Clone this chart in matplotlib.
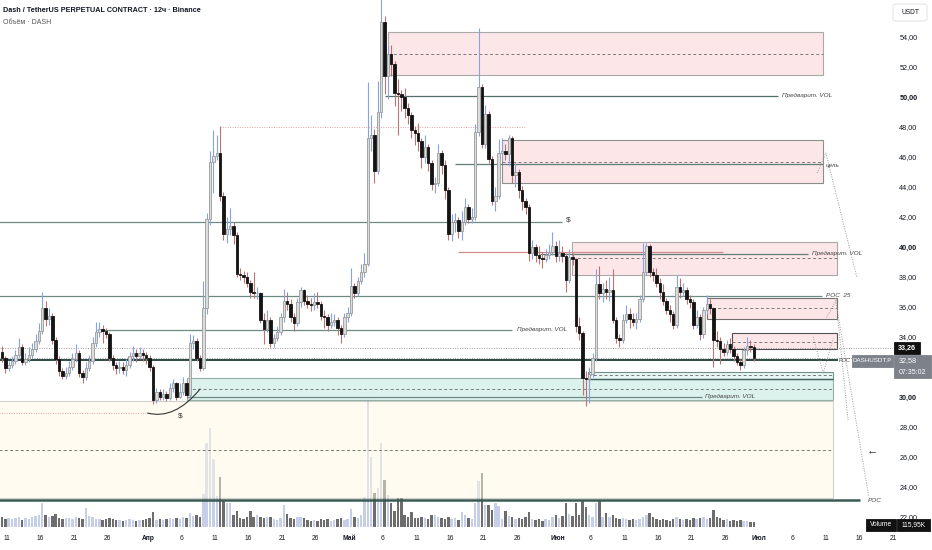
import numpy as np
import matplotlib
matplotlib.use('Agg')
import matplotlib.pyplot as plt
from matplotlib.patches import Rectangle, FancyBboxPatch, PathPatch
from matplotlib.path import Path

plt.rcParams['font.family'] = ['Liberation Sans', 'DejaVu Sans']

# ---------------- data (12h candles, DASH/USDT perpetual) ----------------
first_open = 33.0
closes = [
    32.6, 31.9, 32.1, 32.4, 32.8, 33.3, 32.3, 32.5, 32.8, 33.2,
    33.7, 34.4, 35.9, 35.2, 35.4, 33.8, 32.5, 31.7, 31.4, 31.6,
    32.0, 32.5, 32.9, 31.6, 31.3, 31.9, 32.4, 33.6, 34.3, 34.5,
    34.4, 34.2, 32.6, 32.1, 31.9, 32.0, 31.8, 32.1, 32.7, 32.9,
    32.7, 32.9, 32.8, 32.6, 32.0, 29.8, 30.3, 30.0, 30.2, 29.9,
    30.6, 30.9, 30.0, 30.3, 30.9, 30.1, 33.6, 33.7, 32.6, 31.9,
    35.9, 41.9, 45.7, 46.1, 46.3, 43.4, 40.9, 41.2, 41.4, 40.8,
    38.2, 38.1, 38.0, 37.6, 37.0, 36.9, 36.9, 35.1, 34.5, 35.1,
    33.6, 33.9, 34.3, 35.3, 36.4, 36.2, 35.3, 34.9, 36.3, 37.1,
    36.4, 36.2, 36.1, 36.3, 36.2, 35.4, 35.3, 34.8, 35.0, 35.1,
    34.6, 34.2, 35.3, 35.6, 37.4, 36.9, 37.7, 38.3, 38.9, 47.3,
    47.5, 45.1, 49.0, 55.0, 51.4, 52.9, 52.2, 50.3, 50.2, 50.0,
    49.3, 48.8, 47.8, 47.6, 47.1, 46.0, 46.7, 45.6, 44.2, 44.3,
    46.3, 45.5, 43.8, 40.9, 41.7, 41.8, 41.1, 41.7, 42.7, 41.9,
    42.0, 47.7, 50.7, 46.9, 48.9, 45.9, 43.1, 43.4, 46.3, 46.4,
    46.2, 47.3, 44.8, 45.0, 43.8, 43.1, 42.7, 39.6, 40.0, 39.5,
    39.3, 39.2, 39.5, 39.7, 40.1, 39.4, 39.6, 39.4, 37.8, 39.35,
    39.2, 34.7, 34.25, 31.25, 31.2, 31.5, 32.6, 37.5, 36.9, 37.2,
    37.0, 37.1, 35.1, 33.9, 33.8, 35.1, 35.5, 35.2, 35.0, 35.2,
    36.5, 38.3, 40.1, 38.3, 38.1, 37.6, 37.0, 36.4, 35.8, 35.5,
    34.8, 37.3, 37.0, 37.1, 36.5, 36.3, 34.8, 35.3, 34.2, 35.8,
    36.2, 35.9, 33.8, 33.7, 33.2, 33.0, 33.5, 33.2, 32.7, 32.35,
    32.1, 33.1, 33.4, 33.3, 32.58,
]
highs = [
    33.4, 32.7, 32.4, 32.7, 33.1, 33.9, 33.5, 32.9, 33.3, 33.6,
    34.2, 34.9, 37.0, 36.4, 35.9, 35.6, 34.0, 32.7, 31.9, 32.0,
    32.4, 32.9, 33.5, 33.1, 31.8, 32.3, 32.8, 34.0, 35.0, 35.0,
    34.8, 34.6, 34.3, 32.8, 32.3, 32.4, 32.3, 32.5, 33.0, 33.4,
    33.2, 33.3, 33.2, 33.0, 32.8, 32.1, 30.6, 30.5, 30.5, 30.4,
    30.9, 31.2, 31.0, 30.9, 31.3, 31.1, 34.2, 34.1, 33.9, 32.8,
    37.7, 42.3, 46.4, 47.8, 47.5, 48.1, 43.7, 42.0, 42.6, 41.7,
    41.0, 38.6, 38.4, 38.3, 37.8, 38.3, 37.3, 37.0, 35.6, 35.8,
    35.3, 34.2, 34.7, 35.6, 37.2, 37.0, 36.5, 35.6, 36.6, 37.3,
    37.2, 36.8, 36.6, 36.9, 37.0, 36.4, 35.8, 35.5, 35.6, 35.5,
    35.3, 34.8, 35.6, 36.0, 38.6, 37.6, 38.0, 38.9, 39.6, 51.0,
    48.8, 47.9, 51.1, 57.0, 55.4, 53.4, 53.5, 52.4, 51.2, 50.5,
    50.6, 49.6, 49.0, 48.1, 48.3, 47.3, 47.5, 46.9, 45.8, 44.7,
    46.9, 46.5, 45.8, 44.0, 42.2, 42.3, 42.0, 42.4, 43.3, 42.9,
    42.6, 48.2, 54.6, 50.9, 49.5, 49.1, 46.1, 44.0, 47.2, 47.3,
    46.9, 47.5, 47.4, 45.6, 45.2, 44.1, 43.3, 42.9, 40.5, 40.2,
    40.1, 39.7, 39.9, 40.2, 41.0, 40.4, 40.5, 40.1, 39.6, 39.9,
    39.6, 39.3, 35.3, 34.4, 31.7, 32.0, 32.9, 38.5, 38.7, 37.6,
    37.8, 38.0, 38.5, 35.3, 34.2, 35.5, 36.1, 35.9, 35.6, 35.6,
    36.8, 40.3, 40.3, 40.2, 38.6, 38.6, 37.9, 37.5, 36.6, 36.1,
    35.7, 38.1, 37.9, 37.6, 37.3, 36.8, 36.5, 35.8, 35.5, 36.0,
    36.8, 36.5, 36.0, 34.4, 34.0, 33.6, 33.8, 33.9, 33.4, 32.9,
    32.5, 33.3, 34.0, 33.8, 33.5,
]
lows = [
    32.3, 31.6, 31.7, 31.9, 32.2, 32.6, 32.1, 32.1, 32.3, 32.6,
    33.0, 33.5, 34.2, 34.7, 34.8, 33.5, 32.2, 31.4, 31.2, 31.2,
    31.4, 31.8, 32.3, 31.3, 30.9, 31.1, 31.7, 32.2, 33.3, 34.0,
    33.6, 33.9, 32.4, 31.8, 31.5, 31.6, 31.5, 31.4, 31.9, 32.4,
    32.3, 32.5, 32.4, 32.2, 31.7, 29.5, 29.6, 29.8, 29.8, 29.7,
    29.8, 30.3, 29.8, 29.9, 30.1, 29.9, 30.0, 33.2, 32.4, 31.7,
    31.8, 35.5, 41.5, 43.6, 45.8, 43.1, 40.5, 40.3, 40.8, 40.2,
    38.0, 37.8, 37.6, 37.3, 36.6, 36.6, 36.5, 34.9, 33.5, 34.3,
    33.3, 33.3, 33.7, 34.1, 35.0, 35.8, 35.0, 34.4, 34.7, 36.0,
    36.1, 35.9, 35.7, 35.8, 35.9, 35.1, 34.6, 34.4, 34.6, 34.7,
    34.1, 33.6, 34.0, 35.0, 35.4, 36.6, 36.7, 37.5, 38.0, 38.7,
    46.4, 44.3, 44.9, 48.6, 50.2, 49.9, 51.4, 49.4, 47.5, 49.1,
    48.6, 48.2, 47.3, 46.8, 46.4, 45.3, 45.6, 45.1, 43.8, 43.6,
    44.1, 44.9, 43.2, 40.5, 40.4, 41.0, 40.6, 40.5, 41.5, 41.6,
    41.6, 41.8, 47.4, 46.6, 46.6, 45.6, 42.8, 42.4, 43.2, 45.9,
    45.8, 45.4, 44.3, 44.0, 43.3, 42.5, 42.2, 39.1, 39.2, 39.0,
    38.9, 38.6, 39.0, 39.2, 39.5, 39.0, 39.1, 39.0, 37.0, 37.6,
    38.8, 34.3, 33.8, 30.1, 29.4, 29.6, 31.3, 32.4, 36.5, 36.3,
    36.5, 36.4, 34.9, 33.6, 33.3, 33.6, 34.9, 34.6, 34.7, 34.5,
    35.0, 36.3, 38.1, 38.0, 37.7, 37.3, 36.5, 36.1, 35.5, 35.0,
    34.5, 34.6, 36.6, 36.7, 36.2, 35.9, 34.5, 34.6, 33.8, 33.9,
    35.5, 35.5, 32.0, 33.3, 32.2, 32.7, 32.8, 32.9, 32.4, 32.1,
    31.8, 31.9, 32.8, 33.0, 32.4,
]
# volume per candle, in units of ~23K DASH
volume = [
    10, 8, 9, 8, 9, 10, 7, 9, 8, 10,
    11, 12, 24, 12, 10, 11, 13, 9, 8, 9,
    9, 8, 10, 9, 8, 19, 11, 10, 8, 8,
    7, 8, 9, 8, 7, 7, 6, 7, 8, 7,
    6, 7, 7, 8, 9, 15, 7, 8, 7, 8,
    9, 8, 9, 8, 10, 9, 14, 11, 12, 10,
    33, 84, 99, 68, 31, 50, 27, 24, 24, 12,
    16, 9, 8, 10, 16, 10, 12, 10, 9, 10,
    10, 8, 7, 9, 22, 13, 9, 8, 10, 10,
    9, 7, 6, 7, 6, 8, 7, 8, 6, 7,
    8, 9, 7, 8, 18, 10, 9, 12, 30, 129,
    70, 34, 39, 84, 47, 32, 24, 16, 29, 29,
    12, 10, 15, 9, 9, 10, 9, 8, 12, 12,
    10, 9, 8, 10, 8, 9, 7, 15, 12, 9,
    8, 24, 46, 54, 22, 22, 17, 24, 21, 8,
    16, 11, 10, 8, 9, 8, 10, 15, 8, 7,
    8, 6, 8, 7, 10, 12, 9, 11, 24, 13,
    11, 24, 12, 26, 20, 12, 10, 24, 26, 10,
    14, 10, 12, 9, 8, 9, 8, 7, 8, 7,
    8, 10, 12, 14, 10, 8, 7, 8, 7, 6,
    8, 10, 8, 7, 8, 7, 9, 8, 9, 10,
    8, 9, 17, 10, 9, 7, 8, 6, 7, 6,
    7, 6, 6, 5, 5,
]
# 32,00 is hidden behind the last-price label in the reference
price_ticks = [22, 24, 26, 28, 30, 34, 36, 38, 40, 42, 44, 46, 48, 50, 52, 54]
bold_ticks = [30, 40, 50]
# day offsets from 10 March
tick_days = [1, 6, 11, 16, 22, 27, 32, 37, 42, 47, 52, 57, 62, 67, 72, 77,
             83, 88, 93, 98, 103, 108, 113, 118, 123, 128, 133]
tick_labels = ['11', '16', '21', '26', 'Апр', '6', '11', '16', '21', '26', 'Май', '6',
               '11', '16', '21', '26', 'Июн', '6', '11', '16', '21', '26', 'Июл', '6',
               '11', '16', '21']
month_labels = ['Апр', 'Май', 'Июн', 'Июл']
last_price = 32.58
line_price = 33.26

closes = np.array(closes)
highs = np.array(highs)
lows = np.array(lows)
opens = np.r_[first_open, closes[:-1]]
n = len(closes)
days = 0.25 + 0.5 * np.arange(n)

# ---------------- figure ----------------
W, H = 932, 550
fig = plt.figure(figsize=(W / 100, H / 100), dpi=100)
PANE_R, PANE_B = 893, 527
rect = [0, 1 - PANE_B / H, PANE_R / W, PANE_B / H]
ax_vol = fig.add_axes(rect)
ax = fig.add_axes(rect)
ax_vol.set_zorder(0)
ax.set_zorder(1)
ax.patch.set_visible(False)

XL = (-0.045, 133.0)
YL = (21.33, 56.47)
for a in (ax, ax_vol):
    a.set_xlim(*XL)
    for s in a.spines.values():
        s.set_visible(False)
ax.set_ylim(*YL)
ax_vol.set_ylim(0, 527)
ax_vol.set_xticks([])
ax_vol.set_yticks([])

up = closes >= opens

# volume
vcol = np.where(up, '#c6cee8', '#6d6d6d')
ax_vol.bar(days, volume, width=0.36, color=vcol, linewidth=0)

# zones
def zone(d0, d1, lo, hi, mid, fc, ec, alpha=1.0, lw=0.8):
    ax.add_patch(Rectangle((d0, lo), d1 - d0, hi - lo, facecolor=fc, edgecolor=ec,
                           lw=lw, alpha=alpha, zorder=1))
    if mid is not None:
        ax.hlines(mid, d0, d1, colors='#7a7a7a', linestyles=(0, (3, 2.5)), lw=0.7, zorder=1.5)

PINK, PINK_E = '#fde6e8', '#a9a9a9'
zone(57.8, 122.6, 51.47, 54.35, 52.9, PINK, PINK_E)
zone(74.7, 122.6, 44.27, 47.15, 45.7, PINK, '#8e8e8e')
zone(85.2, 124.7, 38.13, 40.35, 39.24, PINK, PINK_E)
zone(105.3, 124.7, 35.18, 36.58, 35.9, PINK, '#707070')
zone(109.0, 124.7, 33.18, 34.24, 33.69, PINK, '#505050')
zone(-0.5, 124.1, 23.25, 29.73, 26.47, '#fff9e3', '#a0a8a6', alpha=0.5)
zone(27.8, 124.1, 29.77, 31.25, 30.51, '#d9f1ec', '#8ea5a0', alpha=0.9)
zone(87.6, 124.1, 31.2, 31.69, 31.45, '#e6f6f2', '#6f8f88')

# horizontal lines
LN = '#6b8a84'
hl = [
    (41.65, -0.5, 83.7, LN, 0.9),
    (36.75, -0.5, 122.4, LN, 0.9),
    (34.47, 14.4, 76.2, LN, 0.9),
    (50.07, 57.3, 115.9, '#4f6f68', 0.9),
    (39.55, 80.4, 120.3, '#5f7e78', 0.9),
    (39.68, 68.2, 107.7, '#d48a8a', 0.9),
    (45.55, 67.7, 122.6, '#5f7e78', 0.9),
    (30.02, 27.8, 104.5, LN, 0.9),
    (31.2, 87.6, 124.1, '#3f5f58', 1.0),
    (32.45, -0.5, 124.8, '#2c4a44', 1.4),
    (23.1, -0.5, 128.1, '#3b5a53', 1.8),
]
for p, d0, d1, c, lw in hl:
    ax.hlines(p, d0, d1, colors=c, lw=lw, zorder=2)
ax.hlines([line_price, last_price + 0.04], XL[0], XL[1], colors='#9a9a9a',
          linestyles=(0, (1, 1.5)), lw=0.7, zorder=2)
ax.hlines(48.0, 32.7, 78.2, colors='#e3a4a4', linestyles=(0, (1, 1.5)), lw=0.7, zorder=2)
ax.hlines(28.9, -0.5, 22.0, colors='#e3a4a4', linestyles=(0, (1, 1.5)), lw=0.7, zorder=2)

# arc under April low
arc = Path([(21.9, 28.93), (26.0, 28.45), (29.8, 30.55)],
           [Path.MOVETO, Path.CURVE3, Path.CURVE3])
ax.add_patch(PathPatch(arc, facecolor='none', edgecolor='#333333', lw=0.8, zorder=3))

# dotted projection paths
dots = dict(color='#9a9a9a', lw=0.7, linestyle=(0, (1, 1.5)), zorder=2)
ax.plot([121.7, 123.0, 127.6], [44.93, 46.27, 38.0], **dots)
ax.plot([124.4, 129.4], [36.6, 23.33], **dots)
ax.plot([124.8, 126.3], [35.13, 28.47], **dots)
ax.plot([121.1, 122.6, 124.1], [34.0, 31.6, 33.9], **dots)
ax.plot([123.1, 124.6], [35.3, 36.5], **dots)

# candles
ax.vlines(days[up], lows[up], highs[up], colors='#86a3e4', lw=0.8, zorder=4)
ax.vlines(days[~up], lows[~up], highs[~up], colors='#b97474', lw=0.8, zorder=4)
bot = np.minimum(opens, closes)
hgt = np.maximum(np.abs(closes - opens), 0.06)
ax.bar(days[up], hgt[up], bottom=bot[up], width=0.36, color='#dcdcdc',
       edgecolor='#9a9a9a', linewidth=0.6, zorder=5)
ax.bar(days[~up], hgt[~up], bottom=bot[~up], width=0.36, color='#141414',
       edgecolor='#141414', linewidth=0.6, zorder=5)

# drawing labels
lab = dict(fontsize=4.6, style='italic', color='#444444', va='center', ha='left', zorder=6)
ax.text(116.5, 50.07, 'Предварит. VOL', **lab)
ax.text(77.0, 34.47, 'Предварит. VOL', **lab)
ax.text(121.0, 39.55, 'Предварит. VOL', **lab)
ax.text(105.0, 30.02, 'Предварит. VOL', **lab)
ax.text(123.0, 36.75, 'POC  25', **lab)
ax.text(125.0, 32.45, 'POC', fontsize=4.0, style='italic', color='#444444',
        va='center', ha='left', zorder=6)
ax.text(129.3, 23.1, 'POC', **lab)
ax.text(123.0, 45.45, 'цель', **lab)
ax.text(84.3, 41.8, '$', fontsize=6, color='#333333', va='center', ha='left', zorder=6)
ax.text(26.8, 28.7, '$', fontsize=6, color='#333333', va='center', ha='center', zorder=6)
ax.text(129.9, 26.47, '←', fontsize=8, color='#222222', va='center', ha='center', zorder=6)

# axes ticks
ax.yaxis.tick_right()
ax.set_yticks(price_ticks)
ax.set_yticklabels([f'{t},00' for t in price_ticks])
ax.tick_params(axis='y', length=0, pad=4.5, labelsize=5.2, colors='#131722')
for t, lbl in zip(price_ticks, ax.get_yticklabels()):
    if t in bold_ticks:
        lbl.set_fontweight('bold')
ax.set_xticks(tick_days)
ax.set_xticklabels(tick_labels)
ax.tick_params(axis='x', length=0, pad=6, labelsize=4.8, colors='#131722')
for lbl in ax.get_xticklabels():
    if lbl.get_text() in month_labels:
        lbl.set_fontweight('bold')

# ---------------- overlay labels in pixel space ----------------
def fx(x):
    return x / W

def fy(y):
    return 1 - y / H

def box(x0, y0, x1, y1, fc, ec=None, rounded=False):
    if rounded:
        p = FancyBboxPatch((fx(x0), fy(y1)), fx(x1) - fx(x0), fy(y0) - fy(y1),
                           boxstyle='round,pad=0,rounding_size=0.004',
                           transform=fig.transFigure, facecolor=fc,
                           edgecolor=ec or fc, lw=0.6, zorder=10)
    else:
        p = Rectangle((fx(x0), fy(y1)), fx(x1) - fx(x0), fy(y0) - fy(y1),
                      transform=fig.transFigure, facecolor=fc, edgecolor=ec or fc,
                      lw=0.6, zorder=10)
    fig.patches.append(p)

fig.text(fx(3), fy(10), 'Dash / TetherUS PERPETUAL CONTRACT · 12ч · Binance',
         fontsize=5.2, fontweight='bold', color='#131722', va='center', ha='left')
fig.text(fx(3), fy(23), 'Объём · DASH', fontsize=5.0, color='#555555', va='center', ha='left')

box(893, 4, 927, 21, 'white', '#dddddd', rounded=True)
fig.text(fx(910), fy(12.5), 'USDT', fontsize=4.8, color='#131722', ha='center', va='center', zorder=11)

box(894, 342, 920, 354, '#111111')
fig.text(fx(907), fy(348), f'{line_price:.2f}'.replace('.', ','), fontsize=5.2,
         color='white', ha='center', va='center', fontweight='bold', zorder=11)
box(852, 355, 893, 367, '#7d8189')
fig.text(fx(872.5), fy(361), 'DASHUSDT.P', fontsize=4.5, color='white',
         ha='center', va='center', zorder=11)
box(894, 355, 931, 378, '#7d8189')
fig.text(fx(899), fy(361), f'{last_price:.2f}'.replace('.', ','), fontsize=5.2,
         color='white', ha='left', va='center', zorder=11)
fig.text(fx(899), fy(372), '07:35:02', fontsize=5.0, color='white',
         ha='left', va='center', zorder=11)

box(866, 519, 896, 531, '#111111')
fig.text(fx(881), fy(525), 'Volume', fontsize=4.8, color='white', ha='center', va='center', zorder=11)
box(897, 519, 930, 531, '#111111')
fig.text(fx(913.5), fy(525), '115,95K', fontsize=4.8, color='white', ha='center', va='center', zorder=11)

fig.savefig('out.png', dpi=100)
